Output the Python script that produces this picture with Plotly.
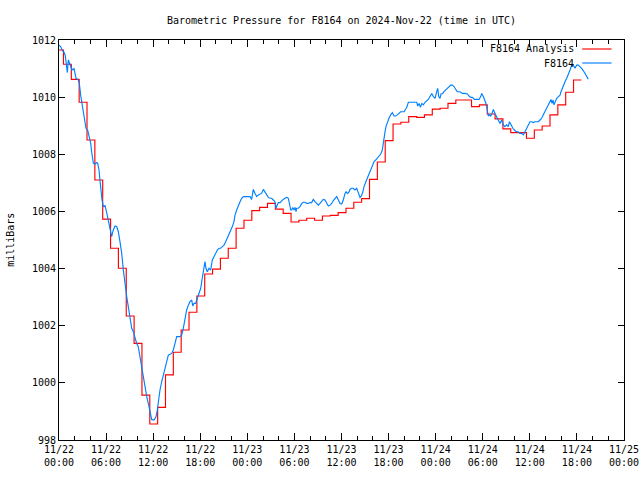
import pandas as pd
import plotly.graph_objects as go

# ---------------- data ----------------
BASE = pd.Timestamp("2024-11-22 00:00")

# Analysis (hourly step series): hours after 11/22 00:00 and pressure (mb)
analysis_hours = [k - 0.43 for k in range(67)] + [66.57]
analysis_mb = [
    1011.65, 1011.15, 1010.62, 1009.82, 1008.50, 1007.10, 1005.73, 1004.71, 1004.01, 1002.34,
    1001.38, 999.57, 998.56, 999.14, 1000.28, 1001.07, 1001.85, 1002.47, 1003.04, 1003.81,
    1003.98, 1004.36, 1004.71, 1005.41, 1005.69, 1006.03, 1006.14, 1006.28, 1006.08, 1005.93,
    1005.63, 1005.69, 1005.76, 1005.69, 1005.84, 1005.86, 1005.96, 1006.11, 1006.32, 1006.45,
    1007.12, 1007.73, 1008.48, 1009.06, 1009.12, 1009.32, 1009.29, 1009.38, 1009.58, 1009.61,
    1009.78, 1009.90, 1009.90, 1009.67, 1009.73, 1009.41, 1009.24, 1008.89, 1008.76, 1008.76,
    1008.56, 1008.85, 1008.99, 1009.38, 1009.73, 1010.17, 1010.60, 1010.60,
]

# Station observations
obs_hours = [
    0.0, 0.2, 0.45, 0.66, 0.8, 1.06, 1.19, 1.35, 1.5, 1.66, 1.91, 2.05, 2.17, 2.46, 2.59, 2.76,
    2.89, 3.1, 3.23, 3.44, 3.65, 3.87, 4.04, 4.16, 4.29, 4.38, 4.58, 4.8, 4.93, 5.1, 5.22, 5.35,
    5.48, 5.65, 5.86, 6.08, 6.29, 6.5, 6.71, 6.92, 7.14, 7.35, 7.56, 7.77, 7.99, 8.2, 8.41, 8.63,
    8.83, 9.05, 9.27, 9.47, 9.69, 9.9, 10.1, 10.32, 10.54, 10.74, 10.96, 11.18, 11.38, 11.6,
    11.81, 12.1, 12.36, 12.53, 12.7, 12.87, 13.09, 13.29, 13.51, 13.72, 13.93, 14.15, 14.36,
    14.57, 14.78, 15.0, 15.42, 15.63, 15.84, 16.06, 16.27, 16.48, 16.69, 16.91, 17.04, 17.2,
    17.41, 17.63, 17.84, 18.06, 18.22, 18.39, 18.6, 18.73, 18.9, 19.12, 19.33, 19.54, 19.75,
    19.97, 20.18, 20.39, 20.6, 20.81, 21.03, 21.24, 21.45, 21.66, 21.88, 22.09, 22.3, 22.43,
    22.64, 22.85, 23.07, 23.28, 23.5, 23.92, 24.34, 24.55, 24.68, 24.76, 24.98, 25.2, 25.4,
    25.61, 25.82, 26.04, 26.25, 26.47, 26.68, 26.89, 27.1, 27.31, 27.52, 27.65, 27.82, 27.95,
    28.16, 28.37, 28.58, 28.8, 29.02, 29.23, 29.36, 29.53, 29.66, 29.78, 29.95, 30.08, 30.21,
    30.29, 30.5, 30.71, 30.93, 31.14, 31.35, 31.57, 31.78, 31.99, 32.2, 32.41, 32.62, 32.84,
    33.05, 33.26, 33.47, 33.68, 33.9, 34.11, 34.32, 34.54, 34.75, 34.96, 35.18, 35.39, 35.6,
    35.81, 36.02, 36.23, 36.45, 36.58, 36.74, 36.92, 37.08, 37.29, 37.5, 37.71, 37.94, 38.06,
    38.23, 38.36, 38.53, 38.7, 38.87, 39.08, 39.29, 39.5, 39.72, 39.93, 40.14, 40.36, 40.56,
    40.78, 41.0, 41.2, 41.33, 41.55, 41.67, 41.84, 42.05, 42.27, 42.48, 42.69, 42.9, 43.11,
    43.33, 43.54, 43.97, 44.31, 44.52, 45.38, 45.59, 45.72, 45.9, 46.06, 46.23, 46.43, 46.64,
    47.06, 47.28, 47.5, 47.71, 47.92, 48.13, 48.26, 48.39, 48.55, 48.68, 48.9, 49.06, 49.28,
    49.48, 49.7, 49.92, 50.12, 50.34, 50.56, 50.76, 51.1, 51.4, 51.74, 52.04, 52.25, 52.47,
    52.68, 52.93, 53.23, 53.52, 53.74, 53.87, 54.07, 54.29, 54.41, 54.58, 54.71, 54.84, 55.01,
    55.18, 55.35, 55.56, 55.78, 55.98, 56.2, 56.41, 56.62, 56.83, 57.04, 57.25, 57.4, 57.62,
    57.83, 58.04, 58.25, 58.5, 58.75, 58.96, 59.17, 59.38, 59.6, 59.81, 60.02, 60.23, 60.44,
    60.66, 60.87, 61.08, 61.3, 61.51, 61.72, 61.93, 62.15, 62.36, 62.57, 62.7, 62.83, 62.96,
    63.08, 63.21, 63.42, 63.64, 63.85, 63.97, 64.19, 64.36, 64.48, 64.7, 64.9, 65.12, 65.34,
    65.54, 65.75, 65.97, 66.18, 66.39, 66.6, 66.81, 67.03, 67.24, 67.45,
]
obs_mb = [
    1011.82, 1011.77, 1011.63, 1011.56, 1011.45, 1010.86, 1011.30, 1011.20, 1011.05, 1010.95,
    1011.00, 1010.80, 1010.66, 1010.60, 1010.48, 1010.07, 1009.84, 1009.55, 1009.30, 1008.91,
    1008.85, 1008.56, 1008.38, 1008.09, 1007.92, 1007.68, 1007.66, 1007.71, 1007.68, 1007.45,
    1007.10, 1006.69, 1006.40, 1006.17, 1006.20, 1005.96, 1005.68, 1005.29, 1005.12, 1005.35,
    1005.49, 1005.47, 1005.29, 1004.94, 1004.53, 1003.95, 1003.37, 1003.02, 1002.67, 1002.31,
    1001.91, 1001.79, 1001.56, 1001.38, 1001.27, 1000.92, 1000.57, 1000.10, 999.75, 999.52,
    999.28, 998.93, 998.72, 998.70, 998.81, 999.05, 999.46, 999.75, 1000.04, 1000.27,
    1000.51, 1000.74, 1000.97, 1001.00, 1001.03, 1001.15, 1001.44, 1001.62, 1001.62, 1001.67,
    1001.91, 1002.31, 1002.55, 1002.72, 1002.84, 1002.90, 1002.69, 1002.78, 1002.78, 1002.96,
    1003.13, 1003.31, 1003.60, 1003.89, 1004.24, 1004.01, 1003.89, 1004.01, 1003.95, 1004.30,
    1004.42, 1004.53, 1004.65, 1004.71, 1004.71, 1004.77, 1004.82, 1004.94, 1005.06, 1005.17,
    1005.29, 1005.47, 1005.64, 1005.87, 1006.05, 1006.22, 1006.34, 1006.46, 1006.52, 1006.52,
    1006.52, 1006.42, 1006.66, 1006.77, 1006.63, 1006.52, 1006.58, 1006.61, 1006.63, 1006.77,
    1006.66, 1006.58, 1006.49, 1006.46, 1006.46, 1006.40, 1006.34, 1006.11, 1006.22, 1006.31,
    1006.31, 1006.38, 1006.42, 1006.46, 1006.49, 1006.46, 1006.28, 1006.05, 1006.05, 1006.14,
    1006.05, 1006.14, 1005.99, 1006.11, 1006.11, 1006.17, 1006.28, 1006.32, 1006.32, 1006.28,
    1006.28, 1006.31, 1006.31, 1006.42, 1006.34, 1006.26, 1006.22, 1006.28, 1006.34, 1006.42,
    1006.40, 1006.28, 1006.19, 1006.22, 1006.28, 1006.38, 1006.46, 1006.52, 1006.40, 1006.28,
    1006.26, 1006.40, 1006.63, 1006.69, 1006.63, 1006.66, 1006.77, 1006.81, 1006.81, 1006.75,
    1006.81, 1006.69, 1006.58, 1006.49, 1006.54, 1006.66, 1006.87, 1007.04, 1007.22, 1007.31,
    1007.45, 1007.63, 1007.74, 1007.80, 1007.86, 1007.94, 1008.01, 1008.15, 1008.44, 1008.79,
    1008.97, 1009.14, 1009.26, 1009.38, 1009.46, 1009.34, 1009.34, 1009.38, 1009.43, 1009.49,
    1009.49, 1009.64, 1009.82, 1009.82, 1009.82, 1009.69, 1009.78, 1009.64, 1009.78, 1009.73,
    1009.82, 1009.92, 1010.02, 1010.13, 1010.02, 1009.96, 1010.19, 1010.31, 1010.02, 1009.96,
    1010.11, 1010.13, 1010.19, 1010.25, 1010.31, 1010.37, 1010.42, 1010.42, 1010.37, 1010.27,
    1010.19, 1010.19, 1010.13, 1010.13, 1010.11, 1010.04, 1009.99, 1009.99, 1009.92, 1009.92,
    1009.92, 1010.02, 1010.13, 1010.02, 1009.88, 1009.78, 1009.55, 1009.34, 1009.38, 1009.34,
    1009.43, 1009.57, 1009.43, 1009.32, 1009.20, 1009.08, 1009.20, 1009.03, 1008.97, 1009.03,
    1008.97, 1009.14, 1009.03, 1008.91, 1008.85, 1008.79, 1008.79, 1008.73, 1008.73, 1008.68,
    1008.79, 1008.91, 1009.03, 1009.14, 1009.14, 1009.11, 1009.14, 1009.14, 1009.14, 1009.20,
    1009.26, 1009.38, 1009.49, 1009.61, 1009.73, 1009.84, 1009.92, 1009.78, 1009.90, 1009.73,
    1009.84, 1009.96, 1010.02, 1010.07, 1010.19, 1010.37, 1010.48, 1010.54, 1010.66, 1010.77,
    1010.95, 1011.12, 1011.12, 1011.01, 1011.12, 1011.12, 1011.07, 1011.01, 1010.93, 1010.83,
    1010.74, 1010.63,
]

series_names = ["F8164 Analysis", "F8164"]
series_colors = ["#ff0000", "#0080ff"]
title_text = "Barometric Pressure for F8164 on 2024-Nov-22 (time in UTC)"
y_label = "milliBars"

# ---------------- figure ----------------
def to_time(hours):
    return [BASE + pd.Timedelta(hours=h) for h in hours]

FONT = "DejaVu Sans Mono"
LW = 1.15

fig = go.Figure()
fig.add_trace(go.Scatter(
    x=to_time(analysis_hours), y=analysis_mb, mode="lines", name=series_names[0],
    line=dict(color=series_colors[0], width=LW, shape="hv"),
))
fig.add_trace(go.Scatter(
    x=to_time(obs_hours), y=obs_mb, mode="lines", name=series_names[1],
    line=dict(color=series_colors[1], width=LW),
))

# gnuplot-style legend: text right-aligned, sample line on the right
legend_y = [0.9775, 0.9425]
for name, color, ly in zip(series_names, series_colors, legend_y):
    fig.add_annotation(xref="paper", yref="paper", x=0.915, y=ly, text=name,
                       showarrow=False, xanchor="right", yanchor="middle",
                       font=dict(family=FONT, size=10, color="black"))
    fig.add_shape(type="line", xref="paper", yref="paper", x0=0.926, x1=0.978,
                  y0=ly, y1=ly, line=dict(color=color, width=LW))

fig.add_annotation(xref="paper", yref="paper", x=-0.087, y=0.5, text=y_label,
                   textangle=-90, showarrow=False, xanchor="center", yanchor="middle",
                   font=dict(family=FONT, size=10, color="black"))

fig.update_layout(
    width=640, height=480,
    margin=dict(l=59, r=16, t=40, b=40),
    paper_bgcolor="white", plot_bgcolor="white",
    showlegend=False,
    title=dict(text=title_text, x=(59 + 624) / 2 / 640, xanchor="center",
               y=1 - 20 / 480, yanchor="middle",
               font=dict(family=FONT, size=10, color="black")),
    font=dict(family=FONT, size=10, color="black"),
)
fig.update_xaxes(
    range=[BASE, BASE + pd.Timedelta(hours=72)], automargin=False,
    type="date", tick0=BASE, dtick=6 * 3600 * 1000, tickformat="%m/%d<br>%H:%M",
    ticks="inside", ticklen=7, tickcolor="black", tickwidth=1,
    minor=dict(dtick=2 * 3600 * 1000, ticks="inside", ticklen=4, tickcolor="black", showgrid=False),
    showline=True, linecolor="black", linewidth=1, mirror="ticks",
    showgrid=False, zeroline=False,
    tickfont=dict(family=FONT, size=10, color="black"),
)
fig.update_yaxes(
    range=[998, 1012], dtick=2, tick0=998, tickformat="d", automargin=False,
    ticks="inside", ticklen=6, tickcolor="black", tickwidth=1,
    showline=True, linecolor="black", linewidth=1, mirror="ticks",
    showgrid=False, zeroline=False,
    tickfont=dict(family=FONT, size=10, color="black"),
)

fig.write_html("out.html", config={"displayModeBar": False},
               post_script="document.body.style.margin='0';")
